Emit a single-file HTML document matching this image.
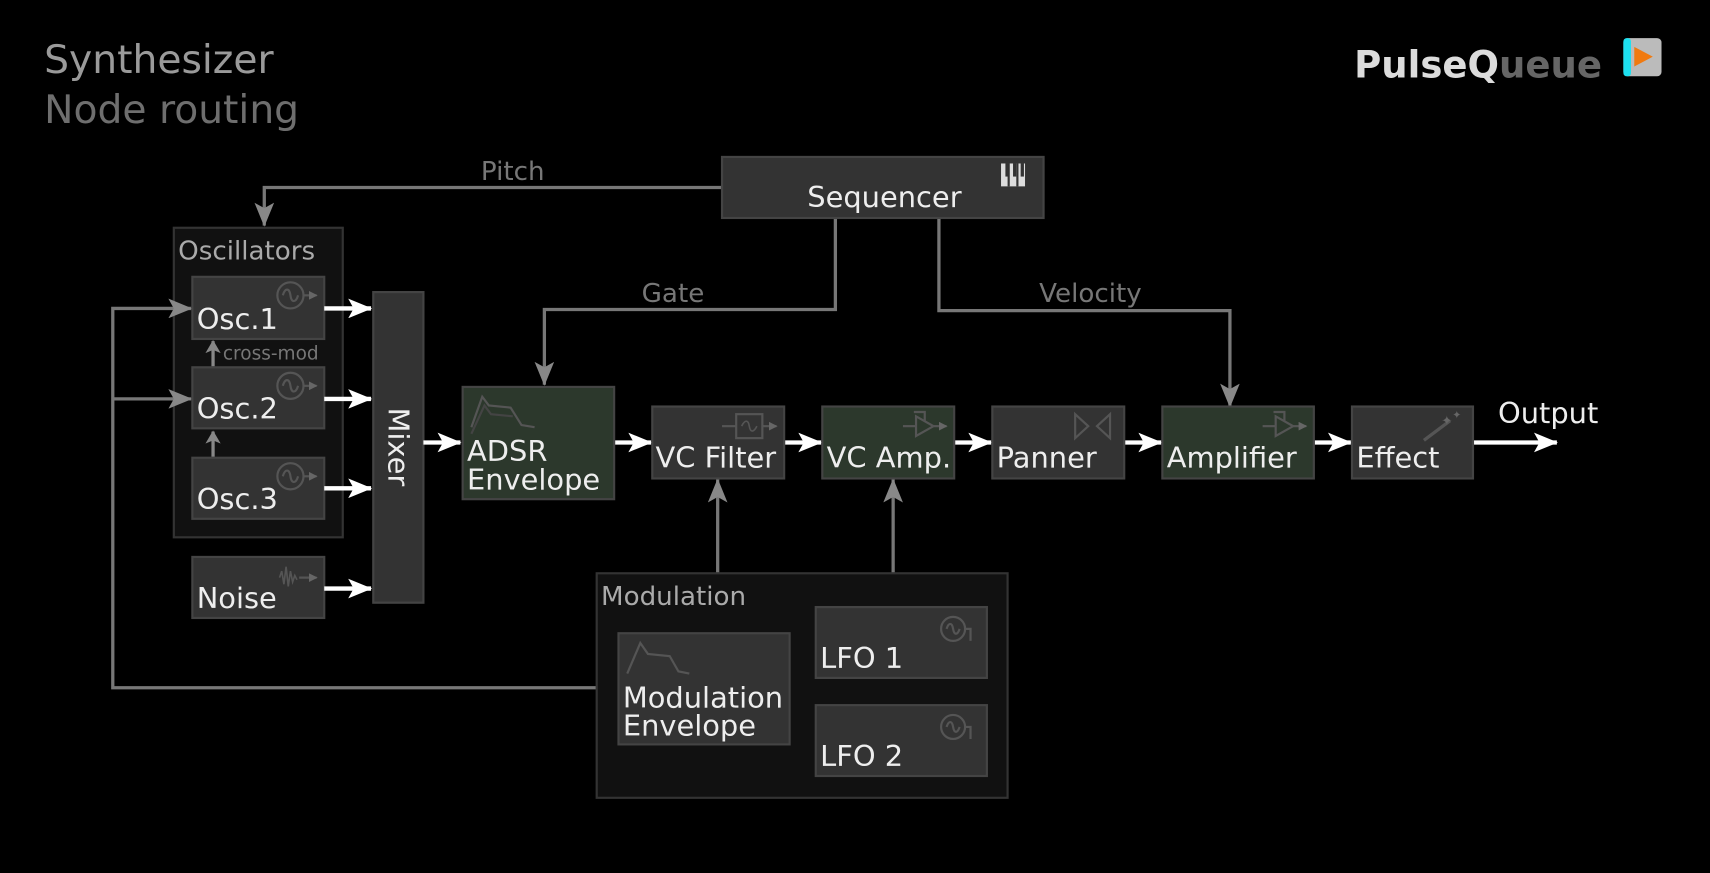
<!DOCTYPE html>
<html><head><meta charset="utf-8"><style>
html,body{margin:0;padding:0;background:#000;}
svg{display:block;}
text{font-family:"DejaVu Sans","Liberation Sans",sans-serif;}
</style></head><body>
<svg width="1710" height="873" viewBox="0 0 1568 801" xmlns="http://www.w3.org/2000/svg">
<defs>
<marker id="ag" markerWidth="12" markerHeight="14" refX="11" refY="7" orient="auto" markerUnits="userSpaceOnUse" viewBox="0 0 12 14"><path d="M0,0 L12,7 L0,14 L3,7 z" fill="#888"/></marker>
<marker id="agb" markerWidth="22" markerHeight="18" refX="21" refY="9" orient="auto" markerUnits="userSpaceOnUse" viewBox="0 0 22 18"><path d="M0,0 L22,9 L0,18 L5,9 z" fill="#888"/></marker>
<marker id="aw" markerWidth="22" markerHeight="18" refX="21" refY="9" orient="auto" markerUnits="userSpaceOnUse" viewBox="0 0 22 18"><path d="M0,0 L22,9 L0,18 L5,9 z" fill="#fff"/></marker>
<marker id="as" markerWidth="8" markerHeight="8" refX="7" refY="4" orient="auto" markerUnits="userSpaceOnUse" viewBox="0 0 8 8"><path d="M0,0 L8,4 L0,8 z" fill="#666"/></marker>
<g id="osci"><circle cx="0" cy="0" r="12" fill="none" stroke="#555" stroke-width="2"/><path d="M-7,0 C-5,-7 -1,-7 0,0 C1,7 5,7 7,0" fill="none" stroke="#555" stroke-width="2"/><line x1="12" y1="0" x2="24" y2="0" stroke="#555" stroke-width="2" marker-end="url(#as)"/></g>
</defs>

<text x="40" y="67" font-size="36" fill="#9a9a9a">Synthesizer</text>
<text x="40" y="113" font-size="36" fill="#6e6e6e">Node routing</text>
<text x="1242" y="71" font-size="34" font-weight="bold" fill="#dcdcdc">PulseQ<tspan fill="#666">ueue</tspan></text>
<rect x="1489" y="35" width="35" height="35" rx="4" fill="#bbb"/>
<rect x="1489" y="35" width="7" height="35" rx="3" fill="#1de0f0"/>
<path d="M1499,43 L1516,52 L1499,61 z" fill="#f07a10"/>

<!-- Oscillators container first -->
<rect x="159" y="209" width="155" height="284" fill="#111" stroke="#333" stroke-width="2"/>
<text x="163" y="238" font-size="24" fill="#aaa">Oscillators</text>

<!-- connectors gray -->
<g fill="none" stroke="#777" stroke-width="3">
<polyline points="662,172 242,172 242,207" marker-end="url(#agb)"/>
<polyline points="766,200 766,284 499,284 499,353" marker-end="url(#agb)"/>
<polyline points="861,200 861,285 1128,285 1128,373" marker-end="url(#agb)"/>
<polyline points="547,631 103,631 103,283 175,283" marker-end="url(#agb)"/>
<polyline points="103,366 175,366" marker-end="url(#agb)"/>
<line x1="658" y1="526" x2="658" y2="440" marker-end="url(#agb)"/>
<line x1="819" y1="526" x2="819" y2="440" marker-end="url(#agb)"/>
</g>
<text x="470" y="165" font-size="24" fill="#777" text-anchor="middle">Pitch</text>
<text x="617" y="277" font-size="24" fill="#777" text-anchor="middle">Gate</text>
<text x="1000" y="277" font-size="24" fill="#777" text-anchor="middle">Velocity</text>

<!-- Sequencer -->
<rect x="662" y="144" width="295" height="56" fill="#333" stroke="#444" stroke-width="2"/>
<text x="811" y="190" font-size="26.5" fill="#eee" text-anchor="middle">Sequencer</text>
<rect x="918" y="150" width="22" height="21" fill="#ddd"/>
<g stroke="#333" stroke-width="2"><line x1="925" y1="150" x2="925" y2="171"/><line x1="933" y1="150" x2="933" y2="171"/></g>
<g fill="#333"><rect x="922" y="150" width="3" height="12"/><rect x="929" y="150" width="3" height="12"/><rect x="936" y="150" width="3" height="12"/></g>

<g fill="#333" stroke="#444" stroke-width="2">
<rect x="176" y="254" width="121" height="57"/>
<rect x="176" y="337" width="121" height="56"/>
<rect x="176" y="420" width="121" height="56"/>
<rect x="176" y="511" width="121" height="56"/>
</g>
<use href="#osci" x="266" y="271"/>
<use href="#osci" x="266" y="354"/>
<use href="#osci" x="266" y="437"/>
<path d="M256,530 l2,-6 l2,12 l2,-16 l2,18 l2,-14 l2,10 l2,-6 l2,4" fill="none" stroke="#555" stroke-width="1.5"/>
<line x1="274" y1="530" x2="290" y2="530" stroke="#555" stroke-width="2" marker-end="url(#as)"/>
<g font-size="26.5" fill="#eee">
<text x="180" y="302">Osc.1</text>
<text x="180" y="384">Osc.2</text>
<text x="180" y="467">Osc.3</text>
<text x="180" y="558">Noise</text>
</g>
<g stroke="#888" stroke-width="3" fill="none">
<line x1="195" y1="336" x2="195" y2="313" marker-end="url(#ag)"/>
<line x1="195" y1="419" x2="195" y2="396" marker-end="url(#ag)"/>
</g>
<text x="204" y="330" font-size="17" fill="#777">cross-mod</text>

<!-- Mixer -->
<rect x="342" y="268" width="46" height="285" fill="#333" stroke="#444" stroke-width="2"/>
<text transform="translate(356,410) rotate(90)" font-size="26.5" fill="#eee" text-anchor="middle">Mixer</text>

<!-- white arrows -->
<g stroke="#fff" stroke-width="4" fill="none">
<line x1="297" y1="283" x2="340" y2="283" marker-end="url(#aw)"/>
<line x1="297" y1="366" x2="340" y2="366" marker-end="url(#aw)"/>
<line x1="297" y1="448" x2="340" y2="448" marker-end="url(#aw)"/>
<line x1="297" y1="540" x2="340" y2="540" marker-end="url(#aw)"/>
<line x1="388" y1="406" x2="422" y2="406" marker-end="url(#aw)"/>
<line x1="563" y1="406" x2="597" y2="406" marker-end="url(#aw)"/>
<line x1="719" y1="406" x2="753" y2="406" marker-end="url(#aw)"/>
<line x1="875" y1="406" x2="909" y2="406" marker-end="url(#aw)"/>
<line x1="1031" y1="406" x2="1065" y2="406" marker-end="url(#aw)"/>
<line x1="1205" y1="406" x2="1239" y2="406" marker-end="url(#aw)"/>
<line x1="1351" y1="406" x2="1428" y2="406" marker-end="url(#aw)"/>
</g>
<text x="1420" y="388" font-size="26.5" fill="#eee" text-anchor="middle">Output</text>

<!-- chain boxes -->
<rect x="424" y="355" width="139" height="103" fill="#2c382c" stroke="#444" stroke-width="2"/>
<path d="M432,392 L442,364 L448,372 L468,374 L478,390 L490,392" fill="none" stroke="#555" stroke-width="2"/>
<path d="M432,398 L444,372 L450,380 L470,382" fill="none" stroke="#444" stroke-width="2"/>
<text x="428" y="423" font-size="26.5" fill="#eee">ADSR</text>
<text x="428" y="449" font-size="26.5" fill="#eee">Envelope</text>

<rect x="598" y="373" width="121" height="66" fill="#333" stroke="#444" stroke-width="2"/>
<rect x="675" y="380" width="24" height="22" fill="none" stroke="#555" stroke-width="2"/>
<path d="M680,391 c3,-6 6,-6 7,0 c1,6 4,6 7,0" fill="none" stroke="#555" stroke-width="1.5"/>
<line x1="662" y1="391" x2="675" y2="391" stroke="#555" stroke-width="2"/>
<line x1="699" y1="391" x2="712" y2="391" stroke="#555" stroke-width="2" marker-end="url(#as)"/>
<text x="601" y="429" font-size="26.5" fill="#eee">VC Filter</text>

<rect x="754" y="373" width="121" height="66" fill="#2c382c" stroke="#444" stroke-width="2"/>
<path d="M840,382 L856,391 L840,400 z" fill="none" stroke="#555" stroke-width="2"/>
<line x1="828" y1="391" x2="840" y2="391" stroke="#555" stroke-width="2"/><line x1="856" y1="391" x2="868" y2="391" stroke="#555" stroke-width="2" marker-end="url(#as)"/>
<polyline points="838,378 848,378 848,386" fill="none" stroke="#555" stroke-width="2"/>
<text x="758" y="429" font-size="26.5" fill="#eee">VC Amp.</text>

<rect x="910" y="373" width="121" height="66" fill="#333" stroke="#444" stroke-width="2"/>
<path d="M986,380 L998,391 L986,402 z M1018,380 L1006,391 L1018,402 z" fill="none" stroke="#555" stroke-width="2"/>
<text x="914" y="429" font-size="26.5" fill="#eee">Panner</text>

<rect x="1066" y="373" width="139" height="66" fill="#2c382c" stroke="#444" stroke-width="2"/>
<path d="M1170,382 L1186,391 L1170,400 z" fill="none" stroke="#555" stroke-width="2"/>
<line x1="1158" y1="391" x2="1170" y2="391" stroke="#555" stroke-width="2"/><line x1="1186" y1="391" x2="1198" y2="391" stroke="#555" stroke-width="2" marker-end="url(#as)"/>
<polyline points="1168,378 1178,378 1178,386" fill="none" stroke="#555" stroke-width="2"/>
<text x="1070" y="429" font-size="26.5" fill="#eee">Amplifier</text>

<rect x="1240" y="373" width="111" height="66" fill="#333" stroke="#444" stroke-width="2"/>
<line x1="1306" y1="404" x2="1330" y2="386" stroke="#555" stroke-width="3"/>
<text x="1322" y="390" font-size="12" fill="#666">✦</text><text x="1332" y="384" font-size="10" fill="#666">✦</text>
<text x="1244" y="429" font-size="26.5" fill="#eee">Effect</text>

<!-- Modulation -->
<rect x="547" y="526" width="377" height="206" fill="#111" stroke="#333" stroke-width="2"/>
<text x="551" y="555" font-size="24" fill="#aaa">Modulation</text>
<rect x="567" y="581" width="157" height="102" fill="#333" stroke="#444" stroke-width="2"/>
<path d="M575,618 L587,590 L594,600 L614,602 L622,616 L632,618" fill="none" stroke="#555" stroke-width="2"/>
<text x="571" y="649" font-size="26.5" fill="#eee">Modulation</text>
<text x="571" y="675" font-size="26.5" fill="#eee">Envelope</text>
<rect x="748" y="557" width="157" height="65" fill="#333" stroke="#444" stroke-width="2"/>
<rect x="748" y="647" width="157" height="65" fill="#333" stroke="#444" stroke-width="2"/>
<g fill="none" stroke="#555" stroke-width="2">
<circle cx="874" cy="577" r="11"/><path d="M868,577 c2,-6 5,-6 6,0 c1,6 4,6 6,0"/><polyline points="885,577 890,577 890,588"/>
<circle cx="874" cy="667" r="11"/><path d="M868,667 c2,-6 5,-6 6,0 c1,6 4,6 6,0"/><polyline points="885,667 890,667 890,678"/>
</g>
<text x="752" y="613" font-size="26.5" fill="#eee">LFO 1</text>
<text x="752" y="703" font-size="26.5" fill="#eee">LFO 2</text>
</svg>
</body></html>
